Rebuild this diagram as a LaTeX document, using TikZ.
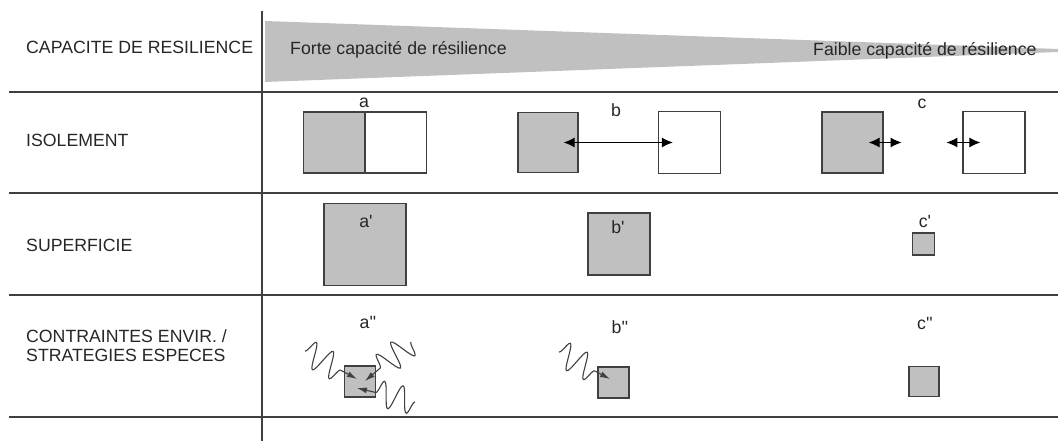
\documentclass[tikz,border=0pt]{standalone}
\usepackage{fontspec}
\setmainfont{Liberation Sans}
\usetikzlibrary{arrows.meta,decorations.pathmorphing}
\definecolor{patchgray}{RGB}{192,192,192}
\definecolor{inkgray}{RGB}{64,64,64}

\begin{document}
\begin{tikzpicture}[x=1pt,y=-1pt,font=\fontsize{17.7}{19}\selectfont,text=black!85,
  patch/.style={draw=inkgray,line width=1.2pt,fill=patchgray,inner sep=0,minimum width=#1,minimum height=#1},
  hole/.style={patch=#1,fill=white},
  link/.style={line width=1.1pt,{Latex[length=11pt,width=10pt]}-{Latex[length=11pt,width=10pt]}},
  wave/.style={inkgray,line width=1.1pt,decorate,decoration={snake,amplitude=#1,segment length=19pt,post length=16pt},-{Latex[length=10pt,width=6pt]}}]
  \useasboundingbox (0,0) rectangle (1058,441);
  % wedge and grid
  \fill[patchgray] (265,21) -- (1058,49) -- (1058,52) -- (265,82) -- cycle;
  \draw[inkgray,line width=1.6pt] (262,11) -- (262,441);
  \foreach \y in {92,193,295,417}{\draw[inkgray,line width=1.3pt] (9,\y) -- (1058,\y);}
  % row titles
  \foreach \n/\y/\t in {cap/47/CAPACITE DE RESILIENCE,iso/140/ISOLEMENT,sup/245/SUPERFICIE}{
    \node[anchor=west,inner sep=0] (\n) at (26,\y) {\t};}
  \node[anchor=west,inner sep=0,align=left] (con) at (26,346) {CONTRAINTES ENVIR. /\\STRATEGIES ESPECES};
  \node[anchor=west,inner sep=0] (forte) at (290,50) {Forte capacité de résilience};
  \node[anchor=west,inner sep=0] (faible) at (813,51) {Faible capacité de résilience};
  % isolement
  \node[patch=61] (ag) at (334,142.5) {};
  \node[hole=61,anchor=west] (aw) at (ag.east) {};
  \node (la) at (364,103) {a};
  \node[patch=60] (bg) at (548,142.5) {};
  \node[hole=62] (bw) at (689.5,142.5) {};
  \draw[link] ([xshift=-15pt]bg.east) -- ([xshift=15pt]bw.west);
  \node (lb) at (616,110) {b};
  \node[patch=61] (cg) at (852.5,142.5) {};
  \node[hole=62] (cw) at (994,142.5) {};
  \draw[link] ([xshift=-15pt]cg.east) -- ([xshift=18pt]cg.east);
  \draw[link] ([xshift=-16pt]cw.west) -- ([xshift=18pt]cw.west);
  \node (lc) at (922,104) {c};
  % superficie
  \node[patch=82] (ap) at (365,244.5) {};
  \node (lap) at (366,221) {a\textquotesingle};
  \node[patch=62] (bp) at (619,244) {};
  \node (lbp) at (618,227) {b\textquotesingle};
  \node[patch=22] (cp) at (923.5,244) {};
  \node (lcp) at (925,221) {c\textquotesingle};
  % contraintes / strategies
  \node[patch=31] (as) at (360,381.5) {};
  \node (las) at (368,322) {a\textquotesingle\textquotesingle};
  \node[patch=31] (bs) at (613.5,382.5) {};
  \node (lbs) at (620,327) {b\textquotesingle\textquotesingle};
  \node[patch=30] (cs) at (924,381.5) {};
  \node (lcs) at (925,323) {c\textquotesingle\textquotesingle};
  \coordinate (w1) at (305,351);
  \coordinate (w2) at (411,342);
  \coordinate (w3) at (415,402);
  \coordinate (w4) at (559,352);
  \draw[wave=13] (w1) -- ([shift={(-3,-2.5)}]as.center);
  \draw[wave=13] (w2) -- ([shift={(5,-0.5)}]as.center);
  \draw[wave=13] (w3) -- ([shift={(-3,6.5)}]as.center);
  \draw[wave=13] (w4) -- ([shift={(-3.5,-3.5)}]bs.center);
\end{tikzpicture}
\end{document}
